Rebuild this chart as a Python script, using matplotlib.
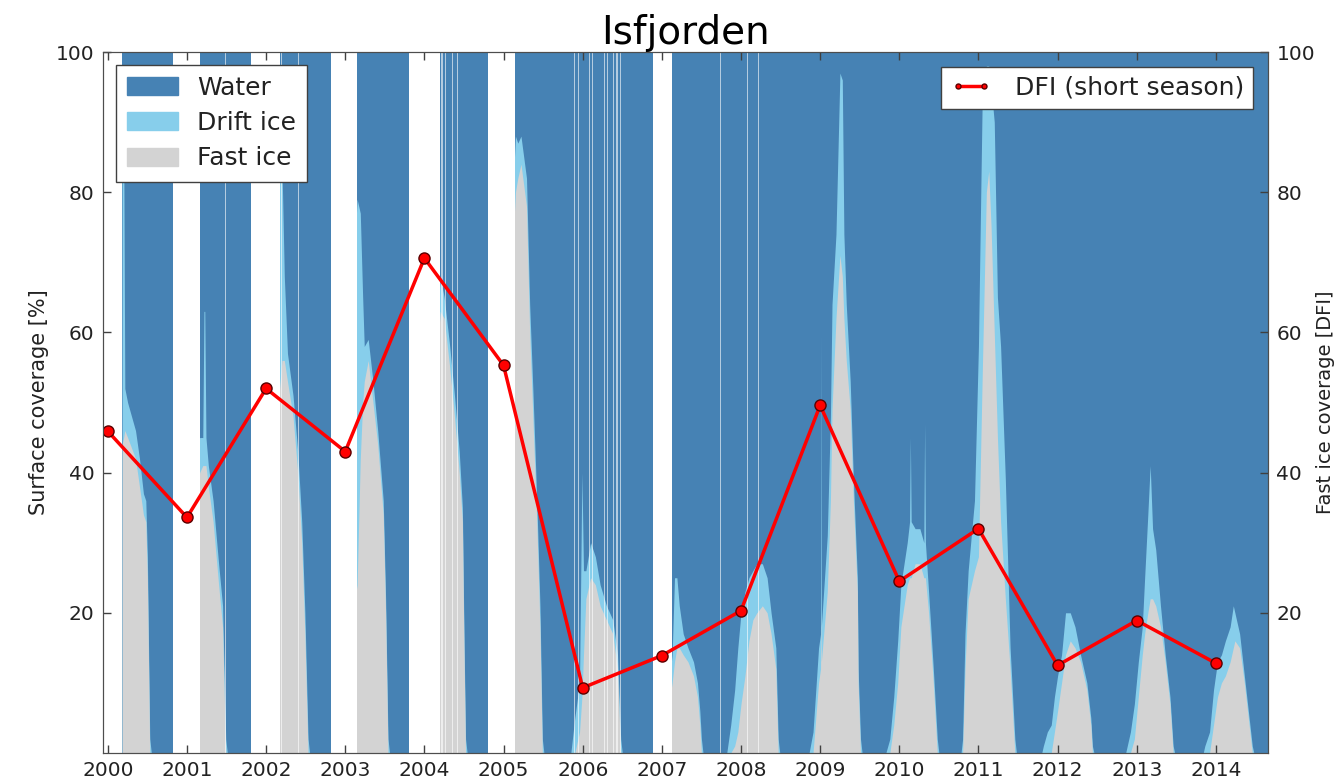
import matplotlib.pyplot as plt
from matplotlib.patches import Patch
import numpy as np

# Isfjorden surface coverage (decimal year, % of fjord area), one line per ice season
dates = [
    2000.18, 2000.20, 2000.215, 2000.25, 2000.35, 2000.40, 2000.45, 2000.48, 2000.50, 2000.53, 2000.55, 2000.82,
    2001.16, 2001.20, 2001.215, 2001.225, 2001.24, 2001.27, 2001.33, 2001.40, 2001.45, 2001.49, 2001.51, 2001.81,
    2002.17, 2002.20, 2002.23, 2002.27, 2002.34, 2002.40, 2002.45, 2002.49, 2002.53, 2002.55, 2002.82,
    2003.15, 2003.19, 2003.22, 2003.24, 2003.29, 2003.35, 2003.41, 2003.48, 2003.51, 2003.54, 2003.56, 2003.81,
    2004.20, 2004.25, 2004.32, 2004.38, 2004.44, 2004.48, 2004.50, 2004.52, 2004.54, 2004.80,
    2005.15, 2005.18, 2005.22, 2005.29, 2005.33, 2005.37, 2005.42, 2005.46, 2005.49, 2005.51,
    2005.85, 2005.90, 2005.96, 2005.99, 2006.01, 2006.04, 2006.10, 2006.16, 2006.22, 2006.30, 2006.38, 2006.44, 2006.46, 2006.48, 2006.50, 2006.89,
    2006.985, 2006.995, 2007.13, 2007.16, 2007.19, 2007.22, 2007.27, 2007.33, 2007.40, 2007.45, 2007.48, 2007.50, 2007.52,
    2007.82, 2007.87, 2007.92, 2007.96, 2008.00, 2008.05, 2008.10, 2008.15, 2008.20, 2008.27, 2008.33, 2008.38, 2008.44, 2008.47, 2008.49,
    2008.86, 2008.91, 2008.98, 2009.005, 2009.01, 2009.015, 2009.09, 2009.13, 2009.15, 2009.20, 2009.25, 2009.28, 2009.30, 2009.33, 2009.38, 2009.42, 2009.47, 2009.48, 2009.51, 2009.53,
    2009.83, 2009.88, 2009.93, 2009.98, 2010.02, 2010.10, 2010.13, 2010.14, 2010.15, 2010.20, 2010.26, 2010.31, 2010.32, 2010.33, 2010.37, 2010.43, 2010.48, 2010.50,
    2010.78, 2010.80, 2010.83, 2010.87, 2010.95, 2011.00, 2011.05, 2011.10, 2011.13, 2011.16, 2011.20, 2011.24, 2011.28, 2011.34, 2011.40, 2011.46, 2011.48,
    2011.80, 2011.82, 2011.87, 2011.92, 2011.96, 2012.00, 2012.05, 2012.10, 2012.16, 2012.22, 2012.29, 2012.37, 2012.42, 2012.44, 2012.46,
    2012.86, 2012.88, 2012.92, 2012.97, 2013.02, 2013.07, 2013.10, 2013.14, 2013.17, 2013.20, 2013.24, 2013.30, 2013.36, 2013.42, 2013.46, 2013.48,
    2013.84, 2013.86, 2013.92, 2013.97, 2014.02, 2014.07, 2014.12, 2014.18, 2014.22, 2014.24, 2014.30, 2014.36, 2014.42, 2014.46, 2014.48, 2014.70,
]
fast_ice = [
    44, 45, 46, 45, 42, 38, 34, 33, 25, 0, 0, 0,
    40, 41, 41, 41, 41, 38, 33, 24, 18, 0, 0, 0,
    52, 56, 56, 53, 48, 40, 30, 17, 0, 0, 0,
    24, 42, 50, 53, 56, 50, 44, 34, 20, 0, 0, 0,
    63, 62, 55, 48, 40, 33, 15, 0, 0, 0,
    80, 82, 84, 78, 60, 48, 33, 18, 0, 0,
    0, 0, 3, 8, 14, 22, 25, 24, 21, 19, 17, 12, 6, 0, 0, 0,
    0, 0, 10, 13, 15, 15, 14, 13, 11, 8, 4, 0, 0,
    0, 0, 1, 3, 7, 11, 16, 19, 20, 21, 20, 17, 12, 0, 0,
    0, 0, 10, 12, 20, 13, 23, 36, 49, 62, 71, 68, 62, 56, 49, 36, 23, 10, 0, 0,
    0, 0, 4, 10, 18, 24, 25, 25, 25, 27, 27, 25, 25, 25, 20, 10, 0, 0,
    0, 0, 12, 22, 26, 28, 55, 80, 83, 75, 60, 45, 33, 22, 12, 0, 0,
    0, 0, 0, 0, 3, 6, 10, 14, 16, 15, 13, 9, 4, 0, 0,
    0, 0, 0, 2, 8, 14, 17, 20, 22, 22, 21, 18, 13, 7, 0, 0,
    0, 0, 0, 4, 8, 10, 11, 13, 15, 16, 15, 10, 4, 0, 0, 0,
]
drift_ice = [
    48, 44, 6, 5, 4, 4, 3, 3, 3, 2, 0, 0,
    5, 4, 22, 22, 4, 3, 3, 3, 3, 2, 0, 0,
    33, 28, 12, 4, 3, 3, 3, 3, 2, 0, 0,
    55, 35, 15, 5, 3, 3, 2, 2, 2, 2, 0, 0,
    5, 3, 3, 3, 3, 2, 2, 2, 0, 0,
    8, 5, 4, 4, 4, 4, 3, 3, 2, 0,
    0, 5, 7, 32, 12, 4, 5, 4, 3, 2, 2, 2, 2, 2, 0, 0,
    0, 0, 4, 12, 10, 6, 3, 2, 2, 2, 2, 2, 0,
    0, 4, 8, 12, 13, 12, 9, 7, 7, 6, 5, 3, 3, 2, 0,
    0, 3, 5, 5, 40, 5, 8, 12, 15, 12, 26, 28, 12, 8, 4, 3, 2, 2, 2, 0,
    0, 2, 4, 6, 6, 6, 8, 20, 8, 5, 5, 5, 22, 5, 3, 2, 2, 0,
    0, 2, 5, 4, 10, 30, 40, 18, 15, 20, 30, 20, 25, 17, 3, 2, 0,
    0, 1, 3, 4, 5, 5, 4, 6, 4, 3, 1, 1, 1, 1, 0,
    0, 1, 3, 5, 5, 4, 8, 14, 19, 10, 8, 3, 1, 1, 1, 0,
    0, 1, 3, 5, 5, 4, 5, 5, 6, 4, 2, 1, 1, 1, 0, 0,
]

# periods without observations (start, end)
no_data = [
    (1999.90, 2000.18), (2000.82, 2001.16), (2001.81, 2002.17), (2002.82, 2003.15),
    (2003.81, 2004.20), (2004.80, 2005.15), (2006.89, 2006.985), (2006.995, 2007.13),
]
# single missing scenes inside the seasons
short_gaps = [
    (2001.475, 2001.49), (2002.19, 2002.205), (2002.40, 2002.415),
    (2004.215, 2004.23), (2004.255, 2004.27), (2004.345, 2004.36), (2004.415, 2004.43),
    (2005.885, 2005.90), (2005.935, 2005.95), (2006.075, 2006.09), (2006.115, 2006.13),
    (2006.265, 2006.28), (2006.305, 2006.32), (2006.385, 2006.40), (2006.425, 2006.44), (2006.465, 2006.48),
    (2007.735, 2007.75), (2008.075, 2008.09), (2008.215, 2008.23),
]

dfi_years = [2000, 2001, 2002, 2003, 2004, 2005, 2006, 2007, 2008, 2009, 2010, 2011, 2012, 2013, 2014]
dfi_values = [45.9, 33.6, 52.0, 43.0, 70.6, 55.3, 9.3, 13.9, 20.3, 49.6, 24.5, 32.0, 12.5, 18.9, 12.8]

assert len(dates) == len(fast_ice) == len(drift_ice)

t = np.array(dates)
fast = np.array(fast_ice, dtype=float)
ice = fast + np.array(drift_ice, dtype=float)

water_c, drift_c, fast_c = 'steelblue', 'skyblue', 'lightgray'
txt = '#222222'

fig = plt.figure(figsize=(13.35, 7.82), dpi=100)
ax = fig.add_axes([0.0772, 0.0371, 0.8727, 0.8964])

# layered fills: water everywhere, then drift+fast ice, then fast ice
ax.fill_between(t, 0, 100, color=water_c, lw=0)
ax.fill_between(t, 0, ice, color=drift_c, lw=0)
ax.fill_between(t, 0, fast, color=fast_c, lw=0)
for a, b in no_data:
    ax.axvspan(a, b, color='white', lw=0)
for a, b in short_gaps:
    ax.axvspan(a, b, color='white', lw=0, alpha=0.6)

ax.set_xlim(1999.94, 2014.66)
ax.set_ylim(0, 100)
ax.set_xticks(dfi_years)
ax.set_yticks([20, 40, 60, 80, 100])
ax.tick_params(direction='in', top=True, right=False, length=6, width=1,
               labelsize=14.5, labelcolor=txt, color='0.25', pad=6)
ax.set_ylabel('Surface coverage [%]', fontsize=15, color=txt, labelpad=5)
ax.set_title('Isfjorden', fontsize=28, color='black', pad=4)
for s in ax.spines.values():
    s.set_color('0.3')

handles = [Patch(color=water_c), Patch(color=drift_c), Patch(color=fast_c)]
leg = ax.legend(handles, ['Water', 'Drift ice', 'Fast ice'], loc='upper left',
                fontsize=18, fancybox=False, framealpha=1, edgecolor='0.25',
                handlelength=2.05, handleheight=0.73, labelspacing=0.45,
                borderpad=0.45, borderaxespad=0.5, handletextpad=0.75)
for tx in leg.get_texts():
    tx.set_color(txt)

ax2 = ax.twinx()
ax2.plot(dfi_years, dfi_values, '-o', color='red', lw=2.5, ms=8,
         mec='#5a0000', mew=1, label='DFI (short season)')
ax2.set_ylim(0, 100)
ax2.set_yticks([20, 40, 60, 80, 100])
ax2.tick_params(direction='in', length=6, width=1, labelsize=14.5,
                labelcolor=txt, color='0.25', pad=6)
ax2.set_ylabel('Fast ice coverage [DFI]', fontsize=14, color=txt, labelpad=1)
for s in ax2.spines.values():
    s.set_color('0.3')
leg2 = ax2.legend(loc='upper right', numpoints=2, markerscale=0.45, fontsize=18,
                  fancybox=False, framealpha=1, edgecolor='0.25',
                  handlelength=1.65, borderpad=0.35, borderaxespad=0.6,
                  handletextpad=0.95)
for tx in leg2.get_texts():
    tx.set_color(txt)

fig.savefig('out.png', dpi=100)
